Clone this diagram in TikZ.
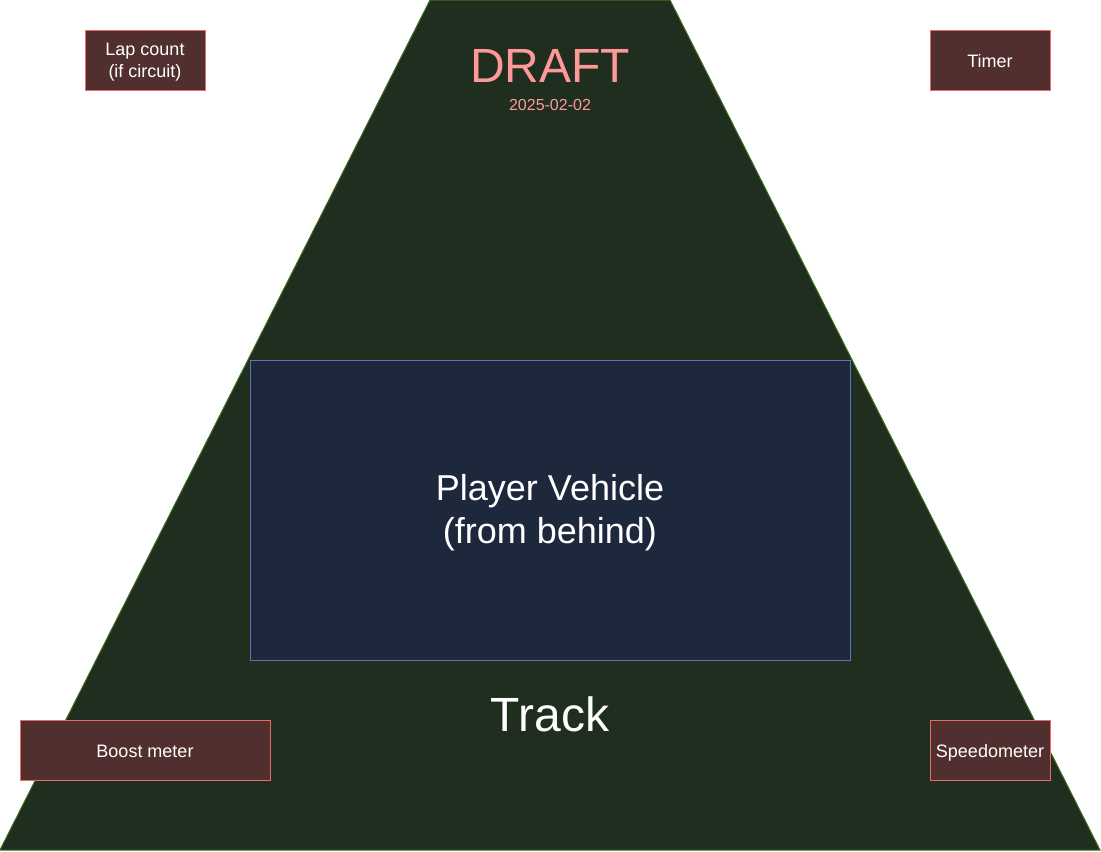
\documentclass[tikz,border=0pt]{standalone}
\usepackage{fontspec}
\setmainfont{Liberation Sans}
\usetikzlibrary{positioning}

\definecolor{trackfill}{RGB}{31,46,30}
\definecolor{trackline}{RGB}{60,112,30}
\definecolor{hudfill}{RGB}{81,47,46}
\definecolor{hudline}{RGB}{234,107,102}
\definecolor{carfill}{RGB}{30,40,60}
\definecolor{carline}{RGB}{88,120,180}
\definecolor{draftcolor}{RGB}{255,153,153}

\begin{document}
\begin{tikzpicture}[x=0.75pt, y=-0.75pt, line width=0.75pt,
		hud/.style = {draw=hudline, fill=hudfill, text=white, align=center, inner sep=0pt, minimum height=45pt, font=\fontsize{13.5}{16}\selectfont},
		hudline/.style = {hud, text height=10.5pt, text depth=0pt},
		car/.style = {draw=carline, fill=carfill, text=white, align=center, inner sep=0pt, minimum width=450pt, minimum height=225pt, font=\fontsize{27}{32}\selectfont}]
		\useasboundingbox (0,0) rectangle (1101,851);

		% the track
		\draw[trackline, fill=trackfill] (430,0) -- (670,0) -- (1100,850) -- (0,850) -- cycle;
		\node[text=draftcolor, font=\fontsize{36}{40}\selectfont] (Draft) at (550,66) {DRAFT};
		\node[text=draftcolor, font=\fontsize{12}{14}\selectfont] (Date) at (550,105) {2025-02-02};

		\node[car] (Vehicle) at (550,510) {};
		\node[text=white, align=center, font=\fontsize{27}{32}\selectfont] (VehicleText) at (550,513) {Player Vehicle\\(from behind)};
		\node[text=white, font=\fontsize{36}{40}\selectfont] (Track) at (550,714) {Track};

		% hud elements
		\node[hud, minimum width=90pt] (Lap) at (145,60) {};
		\node[text=white, align=center, font=\fontsize{13.5}{16}\selectfont] (LapText) at (145,62) {Lap count\\(if circuit)};
		\node[hudline, minimum width=90pt] (Timer) at (990,60) {Timer};
		\node[hudline, minimum width=187.5pt] (Boost) at (145,750) {Boost meter};
		\node[hudline, minimum width=90pt] (Speed) at (990,750) {Speedometer};
	\end{tikzpicture}
\end{document}
